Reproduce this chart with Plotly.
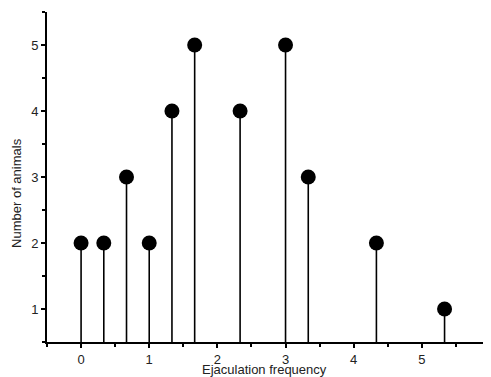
import plotly.graph_objects as go

freq = [0, 1/3, 2/3, 1, 4/3, 5/3, 7/3, 3, 10/3, 13/3, 16/3]
animals = [2, 2, 3, 2, 4, 5, 4, 5, 3, 2, 1]
x_ticks = [0, 1, 2, 3, 4, 5, 6]
y_ticks = [1, 2, 3, 4, 5]

stem_x, stem_y = [], []
for xv, yv in zip(freq, animals):
    stem_x += [xv, xv, None]
    stem_y += [0, yv, None]

fig = go.Figure()
fig.add_trace(go.Scatter(x=stem_x, y=stem_y, mode="lines",
                         line=dict(color="black", width=1.6),
                         hoverinfo="skip", showlegend=False))
fig.add_trace(go.Scatter(x=freq, y=animals, mode="markers",
                         marker=dict(color="black", size=15),
                         cliponaxis=False, showlegend=False))

font = dict(family="Liberation Sans, Arial, sans-serif", size=13, color="#222")
axis_common = dict(showgrid=False, zeroline=False, automargin=False,
                   showline=True, linecolor="black", linewidth=2,
                   ticks="outside", ticklen=4, tickwidth=2, tickcolor="black",
                   tickfont=font,
                   minor=dict(ticks="outside", ticklen=3, tickwidth=2, dtick=0.5,
                              tick0=0, tickcolor="black", showgrid=False))
# page body has an 8px default margin; the figure extends past the right window edge
fig.update_layout(
    width=491, height=369,
    margin=dict(l=39, r=9, t=4, b=35),
    plot_bgcolor="white", paper_bgcolor="white",
    font=font,
    xaxis=dict(range=[-0.5, 6], tickvals=x_ticks, **axis_common),
    yaxis=dict(range=[0.5, 5.5], tickvals=y_ticks, **axis_common),
    annotations=[
        dict(text="Ejaculation frequency", xref="paper", yref="paper",
             x=0.492, y=-0.082, xanchor="center", yanchor="middle",
             showarrow=False, font=font),
        dict(text="Number of animals", xref="paper", yref="paper",
             x=-0.069, y=0.453, xanchor="center", yanchor="middle",
             textangle=-90, showarrow=False, font=font),
    ],
)
fig.write_html("out.html")
